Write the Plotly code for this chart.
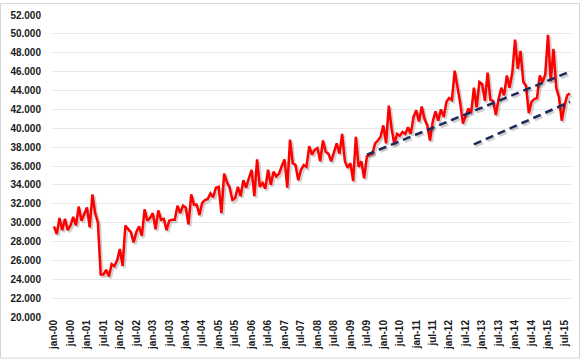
import plotly.graph_objects as go

# Monthly values (thousands), jan-00 .. sep-15
v2000 = [29.6, 28.8, 30.5, 29.2, 30.4, 29.2, 29.7, 30.6, 29.7, 31.7, 30.2, 30.9]
v2001 = [31.6, 29.5, 33.0, 31.0, 30.0, 24.5, 24.5, 25.0, 24.3, 25.6, 25.4, 26.0]
v2002 = [27.2, 25.4, 29.7, 29.3, 29.0, 27.9, 29.0, 29.6, 28.6, 31.4, 30.2, 30.5]
v2003 = [31.0, 29.3, 31.3, 30.3, 30.4, 29.2, 30.2, 30.3, 30.3, 31.8, 31.0, 31.8]
v2004 = [31.6, 29.8, 33.0, 31.9, 31.9, 30.8, 32.1, 32.4, 32.5, 33.1, 32.7, 33.7]
v2005 = [33.8, 31.0, 35.2, 34.3, 33.7, 32.4, 32.6, 33.8, 32.8, 34.5, 33.7, 34.7]
v2006 = [35.6, 32.8, 36.7, 33.8, 34.2, 33.6, 35.6, 34.0, 35.4, 34.9, 35.2, 36.0]
v2007 = [36.7, 33.7, 38.8, 36.3, 36.1, 34.5, 35.6, 36.1, 35.9, 38.1, 37.2, 37.7]
v2008 = [37.9, 36.5, 38.7, 37.5, 37.3, 36.5, 37.5, 38.4, 37.3, 39.4, 36.5, 35.8]
v2009 = [36.3, 34.4, 39.1, 35.9, 36.5, 34.7, 37.0, 37.2, 37.3, 38.4, 38.7, 39.1]
v2010 = [40.3, 38.4, 42.4, 40.0, 38.3, 39.4, 39.2, 39.6, 39.4, 40.1, 39.4, 41.2]
v2011 = [41.9, 40.7, 42.3, 41.0, 40.3, 38.7, 40.7, 41.8, 40.8, 42.0, 41.2, 42.8]
v2012 = [43.2, 43.0, 46.1, 44.5, 42.7, 40.5, 41.2, 42.1, 41.6, 44.3, 42.2, 44.9]
v2013 = [44.7, 42.9, 45.9, 43.0, 42.9, 41.4, 43.1, 44.3, 43.5, 45.6, 44.3, 45.9]
v2014 = [49.4, 46.3, 48.2, 44.9, 44.5, 41.6, 42.8, 43.1, 43.2, 45.6, 44.9, 45.7]
v2015 = [49.9, 45.0, 48.4, 44.3, 43.3, 40.8, 42.4, 43.5, 43.7]

values_k = (v2000 + v2001 + v2002 + v2003 + v2004 + v2005 + v2006 + v2007 +
            v2008 + v2009 + v2010 + v2011 + v2012 + v2013 + v2014 + v2015)
values = [v * 1000 for v in values_k]
months = list(range(len(values)))

# Trend lines (month index, value in thousands)
trend_upper_x = [114, 188]
trend_upper_y = [37.2, 46.0]
trend_lower_x = [153, 188]
trend_lower_y = [38.3, 42.8]

tick_labels = ["jan-00", "jul-00", "jan-01", "jul-01", "jan-02", "jul-02", "jan-03", "jul-03",
               "jan-04", "jul-04", "jan-05", "jul-05", "jan-06", "jul-06", "jan-07", "jul-07",
               "jan-08", "jul-08", "jan-09", "jul-09", "jan-10", "jul-10", "jan-11", "jul-11",
               "jan-12", "jul-12", "jan-13", "jul-13", "jan-14", "jul-14", "jan-15", "jul-15"]
tick_pos = [6 * i for i in range(len(tick_labels))]

RED = "#FF0000"
NAVY = "#1F2A5C"
SHADOW = "rgba(0,0,0,0.18)"
DX, DY = 0.6, -200  # small shadow offset

fig = go.Figure()

def add_line(x, y, color, width, dash=None, shadow=True):
    if shadow:
        fig.add_trace(go.Scatter(x=[a + DX for a in x], y=[b + DY for b in y], mode="lines",
                                 line=dict(color=SHADOW, width=width + 0.5, dash=dash),
                                 hoverinfo="skip", showlegend=False))
    fig.add_trace(go.Scatter(x=x, y=y, mode="lines",
                             line=dict(color=color, width=width, dash=dash),
                             showlegend=False))

add_line(months, values, RED, 2.5)
add_line(trend_upper_x, [v * 1000 for v in trend_upper_y], NAVY, 2.5, dash="8px,5px")
add_line(trend_lower_x, [v * 1000 for v in trend_lower_y], NAVY, 2.5, dash="8px,5px")

fig.update_layout(
    width=581, height=359,
    margin=dict(l=52, r=9, t=12, b=42),
    paper_bgcolor="white", plot_bgcolor="white",
    separators=",.",
    font=dict(family="Liberation Sans, Arial, sans-serif", size=10, color="#1a1a1a"),
    shapes=[dict(type="rect", xref="paper", yref="paper",
                 x0=-51.5 / 520, x1=1 + 7.5 / 520, y0=-41.5 / 305, y1=1 + 11.5 / 305,
                 line=dict(color="#d4d4d4", width=1), fillcolor="rgba(0,0,0,0)", layer="below")],
)
fig.update_xaxes(
    range=[-0.73, 188.75], tickmode="array", tickvals=tick_pos, ticktext=tick_labels,
    tickangle=-90, showgrid=False, zeroline=False, showline=False, ticks="",
    tickfont=dict(size=10, weight="bold", color="#1a1a1a"),
)
fig.update_yaxes(
    range=[20000, 52000], dtick=2000, tick0=20000, tickformat=",.0f",
    showgrid=True, gridcolor="#e8e8e8", gridwidth=1, zeroline=False, showline=False,
    ticks="", ticklabelstandoff=10,
    tickfont=dict(size=10, weight="bold", color="#1a1a1a"),
)

fig.write_html("out.html", config={"displayModeBar": False},
               post_script="document.body.style.margin='0';")
